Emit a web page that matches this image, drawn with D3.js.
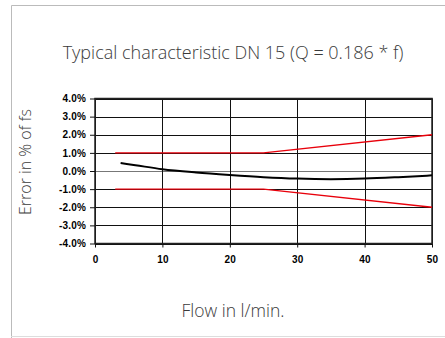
<!DOCTYPE html>
<html>
<head>
<meta charset="utf-8">
<script src="https://cdn.jsdelivr.net/npm/d3@7"></script>
<style>
  body { margin: 0; background: #fff; }
  .tick text { font-family: "Liberation Sans", Arial, sans-serif; font-weight: bold; font-size: 10px; letter-spacing: 0.2px; fill: #000; }
  .lbl { font-family: "Open Sans", "Noto Sans", sans-serif; fill: #3a3a3a; }
</style>
</head>
<body>
<div id="chart"></div>
<script>
var title = "Typical characteristic DN 15 (Q = 0.186 * f)";
var xLabel = "Flow in l/min.";
var yLabel = "Error in % of fs";

var xTicks = [0, 10, 20, 30, 40, 50];
var yTicks = [4, 3, 2, 1, 0, -1, -2, -3, -4];

// tolerance band (flow, %)
var upperFlow = [3, 25, 50],
    upperErr  = [1, 1, 2];
var lowerFlow = [3, 25, 50],
    lowerErr  = [-1, -1, -2];

// typical characteristic (flow, %)
var curveFlow = [3.8, 6, 10, 15, 20, 25, 30, 35, 40, 45, 50],
    curveErr  = [0.44, 0.32, 0.1, -0.08, -0.22, -0.34, -0.42, -0.45, -0.42, -0.34, -0.24];

var W = 445, H = 338;

var svg = d3.select("#chart").append("svg")
    .attr("width", W)
    .attr("height", H);

// outer frame
svg.append("path")
    .attr("d", "M11.5,338 V5.5 H445")
    .attr("fill", "none")
    .attr("stroke", "#bbb");
svg.append("line")
    .attr("x1", 11).attr("x2", 445)
    .attr("y1", 336.5).attr("y2", 336.5)
    .attr("stroke", "#ddd");

var x = d3.scaleLinear().domain([0, 50]).range([95, 432]),
    y = d3.scaleLinear().domain([-4, 4]).range([243.5, 98.5]);

// grid
var g = svg.append("g");
g.selectAll("line.h").data(yTicks).enter().append("line")
    .attr("x1", x(0)).attr("x2", x(50))
    .attr("y1", function(d) { return Math.round(y(d)) + 0.5; })
    .attr("y2", function(d) { return Math.round(y(d)) + 0.5; })
    .attr("stroke", function(d) { return d === 0 ? "#777" : "#111"; });
g.selectAll("line.v").data(xTicks).enter().append("line")
    .attr("y1", y(4)).attr("y2", y(-4))
    .attr("x1", function(d) { return Math.round(x(d)) + 0.5; })
    .attr("x2", function(d) { return Math.round(x(d)) + 0.5; })
    .attr("stroke", "#111");

// frame of plot
svg.append("rect")
    .attr("x", x(0)).attr("y", y(4))
    .attr("width", x(50) - x(0)).attr("height", y(-4) - y(4))
    .attr("fill", "none")
    .attr("stroke", "#222")
    .attr("stroke-width", 1.5);

var xAxis = d3.axisBottom(x).tickValues(xTicks).tickSize(4).tickPadding(8).tickFormat(d3.format("d"));
var yAxis = d3.axisLeft(y).tickValues(yTicks).tickSize(5).tickPadding(4)
    .tickFormat(function(d) { return d.toFixed(1) + "%"; });

svg.append("g")
    .attr("transform", "translate(0," + y(-4) + ")")
    .call(xAxis)
    .call(function(s) { s.select(".domain").remove(); s.selectAll(".tick line").attr("stroke", "#111"); });

svg.append("g")
    .attr("transform", "translate(" + x(0) + ",0)")
    .call(yAxis)
    .call(function(s) { s.select(".domain").remove(); s.selectAll(".tick line").attr("stroke", "#111"); });

var line = d3.line()
    .x(function(d) { return x(d[0]); })
    .y(function(d) { return y(d[1]); });

svg.append("path")
    .datum(d3.zip(upperFlow, upperErr))
    .attr("d", line)
    .attr("fill", "none").attr("stroke", "#e8000b").attr("stroke-width", 1.3);
svg.append("path")
    .datum(d3.zip(lowerFlow, lowerErr))
    .attr("d", line)
    .attr("fill", "none").attr("stroke", "#e8000b").attr("stroke-width", 1.3);

svg.append("path")
    .datum(d3.zip(curveFlow, curveErr))
    .attr("d", line.curve(d3.curveMonotoneX))
    .attr("fill", "none").attr("stroke", "#000").attr("stroke-width", 2);

svg.append("text").attr("class", "lbl")
    .attr("x", 233).attr("y", 59)
    .attr("text-anchor", "middle")
    .attr("font-size", 18)
    .attr("font-weight", 300)
    .text(title);

svg.append("text").attr("class", "lbl")
    .attr("x", 233).attr("y", 317)
    .attr("text-anchor", "middle")
    .attr("font-size", 17.5)
    .attr("font-weight", 300)
    .text(xLabel);

svg.append("text").attr("class", "lbl")
    .attr("transform", "translate(31,162) rotate(-90)")
    .attr("text-anchor", "middle")
    .attr("font-size", 16)
    .attr("font-weight", 300)
    .text(yLabel);
</script>
</body>
</html>
